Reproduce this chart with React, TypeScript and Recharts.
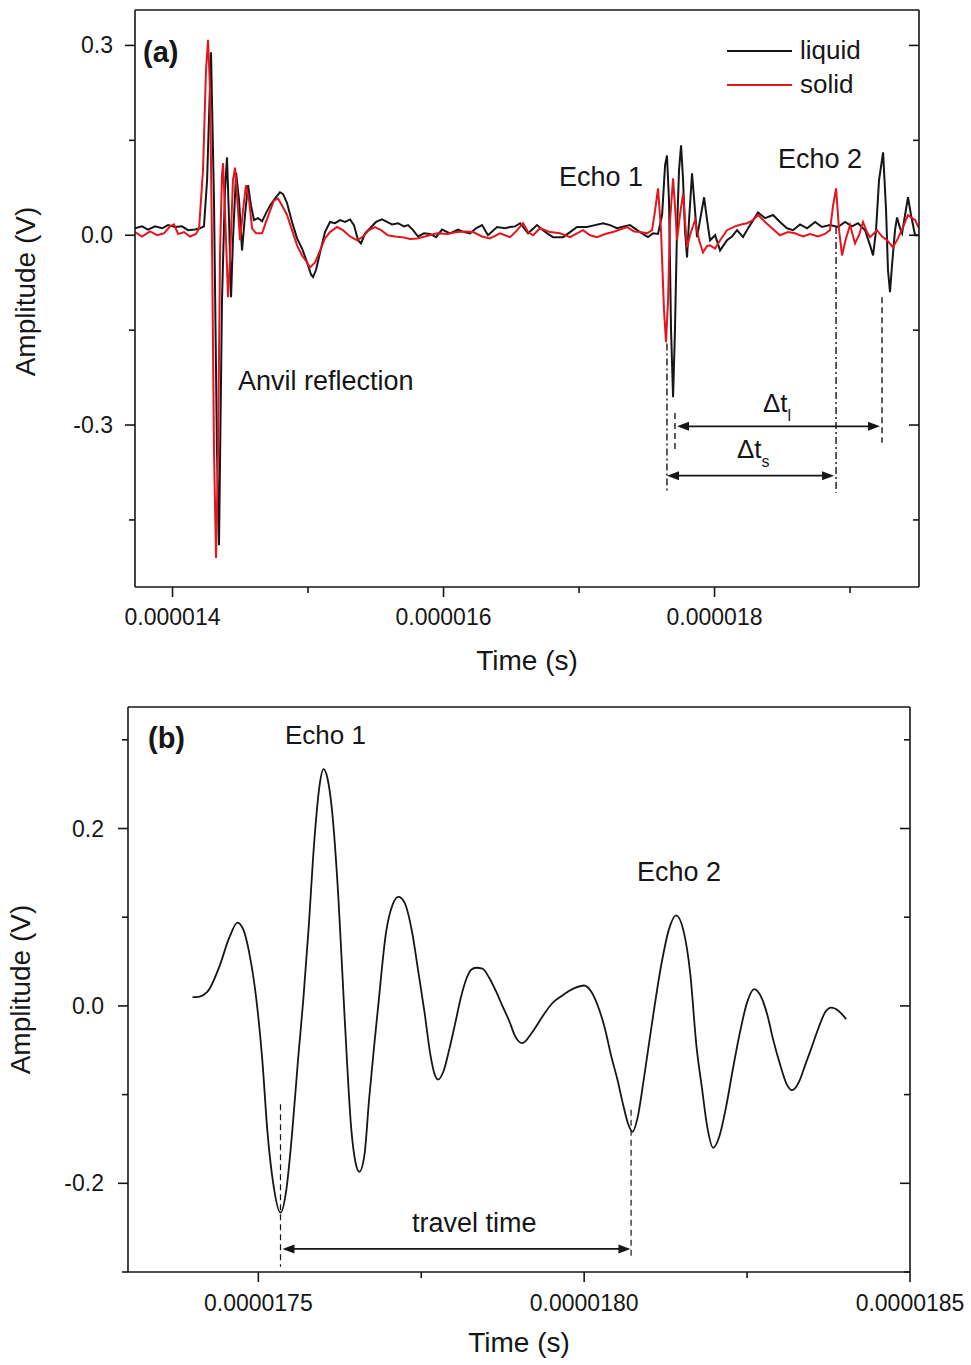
// App.tsx - ultrasonic echo traces, liquid vs solid (a) and a single echo pair (b)
import React from "react";
import { LineChart, Line, XAxis, YAxis, ReferenceLine, Legend } from "recharts";

const FONT = '"Liberation Sans", Arial, Helvetica, sans-serif';
const INK = "#161616";
const RED = "#e3161d";

// ---- panel (a): time in microseconds, amplitude in volts ----
const liquidTime = [
  13.723, 13.775, 13.819, 13.871, 13.923, 13.967, 14.018, 14.07, 14.114, 14.166, 14.203, 14.232,
  14.255, 14.284, 14.306, 14.328, 14.343, 14.365, 14.387, 14.402, 14.417, 14.432, 14.446, 14.469,
  14.491, 14.513, 14.535, 14.557, 14.579, 14.601, 14.631, 14.661, 14.69, 14.72, 14.756, 14.793,
  14.816, 14.845, 14.882, 14.919, 14.956, 14.993, 15.022, 15.037, 15.059, 15.089, 15.125, 15.162,
  15.199, 15.236, 15.273, 15.31, 15.339, 15.369, 15.391, 15.421, 15.458, 15.502, 15.546, 15.583,
  15.62, 15.664, 15.708, 15.738, 15.775, 15.812, 15.856, 15.9, 15.945, 15.989, 16.048, 16.107,
  16.151, 16.196, 16.24, 16.284, 16.328, 16.395, 16.454, 16.491, 16.528, 16.565, 16.624, 16.69,
  16.734, 16.771, 16.808, 16.882, 16.934, 16.985, 17.059, 17.118, 17.177, 17.229, 17.28, 17.332,
  17.376, 17.45, 17.509, 17.546, 17.583, 17.613, 17.635, 17.649, 17.664, 17.679, 17.694, 17.708,
  17.723, 17.738, 17.753, 17.768, 17.782, 17.797, 17.812, 17.834, 17.856, 17.871, 17.893, 17.923,
  17.945, 17.967, 18.004, 18.041, 18.092, 18.129, 18.166, 18.21, 18.262, 18.321, 18.373, 18.432,
  18.483, 18.535, 18.579, 18.631, 18.683, 18.742, 18.793, 18.852, 18.911, 18.963, 19.015, 19.059,
  19.111, 19.148, 19.17, 19.192, 19.214, 19.244, 19.266, 19.28, 19.295, 19.31, 19.332, 19.347,
  19.369, 19.384, 19.406, 19.428, 19.45, 19.48, 19.509,
];
const liquidAmp = [
  0.011, 0.014, 0.009, 0.014, 0.011, 0.016, 0.013, 0.014, 0.008, 0.009, 0.011, 0.014,
  0.087, 0.289, 0.055, -0.34, -0.49, -0.103, 0.071, 0.123, 0.024, -0.098, -0.008, 0.099,
  0.055, -0.024, 0.032, 0.079, 0.047, 0.024, 0.027, 0.022, 0.035, 0.047, 0.058, 0.068,
  0.065, 0.051, 0.021, -0.005, -0.021, -0.043, -0.062, -0.066, -0.055, -0.027, 0.005, 0.021,
  0.019, 0.024, 0.021, 0.025, 0.016, -0.008, -0.013, 0.003, 0.011, 0.021, 0.025, 0.021,
  0.017, 0.019, 0.014, 0.016, 0.008, -0.002, 0.003, 0.002, -0.003, 0.009, 0.003, 0.009,
  0.005, 0.003, 0.011, 0.016, 0.0, 0.013, 0.011, 0.013, 0.014, 0.019, 0.003, 0.016,
  0.008, 0.002, -0.003, -0.003, 0.005, 0.013, 0.013, 0.016, 0.019, 0.016, 0.011, 0.014,
  0.016, 0.005, -0.003, 0.003, 0.002, 0.032, 0.111, 0.126, 0.055, -0.15, -0.256, -0.15,
  0.008, 0.103, 0.142, 0.087, 0.008, -0.035, 0.024, 0.098, 0.039, -0.003, 0.024, 0.06,
  0.024, -0.008, 0.0, -0.024, -0.008, -0.002, 0.008, -0.003, 0.016, 0.036, 0.027, 0.032,
  0.021, 0.011, 0.008, 0.017, 0.011, 0.021, 0.013, 0.016, 0.013, 0.021, 0.014, 0.019,
  0.008, -0.016, -0.032, 0.008, 0.087, 0.131, 0.039, -0.055, -0.09, -0.047, 0.008, 0.028,
  0.011, 0.003, 0.032, 0.06, 0.032, 0.0, 0.0,
];

const solidTime = [
  13.723, 13.775, 13.834, 13.886, 13.937, 13.982, 14.011, 14.041, 14.085, 14.129, 14.173, 14.196,
  14.225, 14.247, 14.262, 14.277, 14.292, 14.306, 14.321, 14.336, 14.351, 14.365, 14.373, 14.387,
  14.41, 14.424, 14.446, 14.461, 14.476, 14.498, 14.52, 14.542, 14.565, 14.587, 14.616, 14.661,
  14.69, 14.72, 14.749, 14.779, 14.808, 14.845, 14.882, 14.919, 14.956, 14.993, 15.015, 15.052,
  15.089, 15.125, 15.162, 15.214, 15.258, 15.31, 15.362, 15.406, 15.45, 15.494, 15.539, 15.59,
  15.642, 15.694, 15.753, 15.804, 15.863, 15.952, 16.026, 16.1, 16.159, 16.218, 16.284, 16.343,
  16.417, 16.491, 16.535, 16.587, 16.624, 16.661, 16.712, 16.786, 16.86, 16.934, 16.985, 17.03,
  17.081, 17.133, 17.192, 17.251, 17.303, 17.354, 17.406, 17.45, 17.502, 17.539, 17.561, 17.583,
  17.605, 17.627, 17.642, 17.657, 17.672, 17.694, 17.708, 17.723, 17.745, 17.768, 17.782, 17.797,
  17.819, 17.856, 17.886, 17.915, 17.945, 17.967, 18.004, 18.041, 18.092, 18.151, 18.196, 18.24,
  18.284, 18.321, 18.373, 18.424, 18.483, 18.542, 18.594, 18.653, 18.705, 18.764, 18.815, 18.852,
  18.875, 18.897, 18.919, 18.941, 18.97, 19.0, 19.037, 19.066, 19.096, 19.125, 19.148, 19.199,
  19.236, 19.273, 19.317, 19.354, 19.391, 19.428, 19.458, 19.48, 19.509,
];
const solidAmp = [
  0.005, -0.002, 0.006, 0.0, 0.003, 0.014, 0.017, 0.002, 0.005, -0.002, 0.002, 0.011,
  0.103, 0.261, 0.309, 0.229, -0.024, -0.34, -0.51, -0.34, -0.024, 0.095, 0.114, 0.039,
  -0.098, -0.039, 0.087, 0.107, 0.063, -0.008, 0.039, 0.079, 0.055, 0.011, 0.003, 0.003,
  0.021, 0.039, 0.055, 0.058, 0.047, 0.032, 0.008, -0.016, -0.032, -0.043, -0.051, -0.043,
  -0.024, -0.005, 0.005, 0.013, 0.008, -0.002, -0.008, -0.002, 0.008, 0.013, 0.008, 0.0,
  -0.002, -0.003, -0.006, -0.005, -0.002, 0.003, 0.002, 0.005, 0.006, 0.005, -0.002, -0.005,
  0.003, -0.003, 0.006, 0.019, 0.005, 0.0, 0.011, 0.005, 0.003, -0.003, 0.003, 0.008,
  0.0, -0.003, 0.002, 0.005, 0.009, 0.013, 0.006, 0.005, 0.003, 0.008, 0.039, 0.074,
  0.008, -0.118, -0.169, -0.103, 0.024, 0.09, 0.047, -0.008, 0.032, 0.066, 0.024, -0.019,
  0.0, 0.024, -0.008, -0.027, -0.017, -0.016, -0.021, -0.008, 0.008, 0.014, 0.017, 0.019,
  0.024, 0.032, 0.021, 0.011, 0.0, 0.005, 0.003, -0.002, 0.002, -0.002, 0.002, 0.008,
  0.047, 0.074, 0.008, -0.032, -0.005, 0.016, -0.013, 0.0, 0.021, 0.005, -0.003, 0.008,
  -0.002, -0.008, -0.019, -0.005, 0.013, 0.032, 0.027, 0.024, 0.011,
];

// ---- panel (b): zoomed echo pair ----
const echoTime = [
  17.399, 17.406, 17.422, 17.44, 17.456, 17.468, 17.477, 17.486, 17.497, 17.506, 17.514, 17.523,
  17.534, 17.543, 17.552, 17.561, 17.569, 17.577, 17.586, 17.594, 17.6, 17.606, 17.613, 17.623,
  17.632, 17.643, 17.649, 17.655, 17.663, 17.67, 17.678, 17.683, 17.696, 17.706, 17.715, 17.724,
  17.736, 17.745, 17.755, 17.764, 17.77, 17.776, 17.784, 17.793, 17.802, 17.811, 17.819, 17.827,
  17.834, 17.844, 17.854, 17.865, 17.874, 17.885, 17.894, 17.905, 17.92, 17.936, 17.951, 17.965,
  17.985, 18.0, 18.011, 18.023, 18.032, 18.041, 18.051, 18.06, 18.067, 18.074, 18.082, 18.091,
  18.103, 18.118, 18.13, 18.141, 18.152, 18.163, 18.172, 18.181, 18.189, 18.198, 18.207, 18.218,
  18.228, 18.239, 18.25, 18.261, 18.271, 18.281, 18.29, 18.301, 18.31, 18.319, 18.33, 18.339,
  18.348, 18.359, 18.37, 18.379, 18.391, 18.402,
];
const echoAmp = [
  0.01, 0.01, 0.016, 0.044, 0.078, 0.094, 0.086, 0.06, 0.007, -0.06, -0.142, -0.201,
  -0.233, -0.207, -0.142, -0.06, 0.007, 0.086, 0.187, 0.249, 0.267, 0.257, 0.221, 0.12,
  -0.007, -0.142, -0.176, -0.187, -0.167, -0.105, -0.043, -0.007, 0.083, 0.114, 0.123, 0.117,
  0.083, 0.041, -0.007, -0.055, -0.076, -0.083, -0.074, -0.049, -0.02, 0.01, 0.03, 0.041,
  0.043, 0.042, 0.032, 0.016, 0.001, -0.017, -0.034, -0.042, -0.03, -0.012, 0.003, 0.011,
  0.02, 0.023, 0.016, -0.004, -0.026, -0.055, -0.083, -0.112, -0.132, -0.142, -0.126, -0.085,
  -0.025, 0.045, 0.086, 0.102, 0.086, 0.035, -0.043, -0.094, -0.137, -0.16, -0.148, -0.113,
  -0.072, -0.03, 0.004, 0.019, 0.011, -0.01, -0.038, -0.067, -0.087, -0.095, -0.085, -0.067,
  -0.049, -0.026, -0.007, -0.002, -0.006, -0.015,
];

// axis ticks (µs / V)
const aTimeTicks = [14, 15, 16, 17, 18, 19];
const aTimeMajor = [14, 16, 18];
const aAmpTicks = [-0.45, -0.3, -0.15, 0, 0.15, 0.3];
const aAmpMajor = [-0.3, 0, 0.3];
const bTimeTicks = [17.5, 17.75, 18, 18.25, 18.5];
const bTimeMajor = [17.5, 18, 18.5];
const bAmpTicks = [-0.3, -0.2, -0.1, 0, 0.1, 0.2, 0.3];
const bAmpMajor = [-0.2, 0, 0.2];

// time-of-flight markers: [time, from amp, to amp]
const aDashDot = [[17.649, -0.171, -0.407], [18.897, 0.013, -0.407]];
const aDashed = [[17.708, -0.281, -0.34], [19.236, -0.098, -0.328]];
const aArrows = [[17.723, 19.221, -0.302], [17.649, 18.882, -0.38]];
const bDashed = [[17.534, -0.111, -0.294], [18.072, -0.117, -0.283]];
const bArrows = [[17.537, 18.071, -0.274]];

const liquid = liquidTime.map((t, i) => ({ t, v: liquidAmp[i] }));
const solid = solidTime.map((t, i) => ({ t, v: solidAmp[i] }));
const echo = echoTime.map((t, i) => ({ t, v: echoAmp[i] }));

const near = (list: number[], v: number) => list.some((m) => Math.abs(m - v) < 1e-9);

type Side = "bottom" | "top" | "left" | "right";

// draws its own tick line (minor ticks shorter); bottom/left point out, top/right point in
function makeTick(side: Side, majors: number[], size: number, gap: number, fmt?: (v: number) => string) {
  return (props: any) => {
    const { x, y, payload } = props;
    const major = near(majors, payload.value);
    const len = major ? 10 : 6;
    if (side === "bottom" || side === "top") {
      const ay = side === "bottom" ? y - size - gap : y + size + gap;
      return (
        <g>
          <line x1={x} x2={x} y1={ay} y2={ay + len} stroke={INK} strokeWidth={1.6} />
          {fmt && major && (
            <text x={x} y={y} dy="0.71em" textAnchor="middle" fontSize={23} fill={INK} fontFamily={FONT}>
              {fmt(payload.value)}
            </text>
          )}
        </g>
      );
    }
    const ax = side === "left" ? x + size + gap : x - size - gap;
    return (
      <g>
        <line x1={ax - len} x2={ax} y1={y} y2={y} stroke={INK} strokeWidth={1.6} />
        {fmt && major && (
          <text x={x} y={y} dy="0.35em" textAnchor="end" fontSize={23} fill={INK} fontFamily={FONT}>
            {fmt(payload.value)}
          </text>
        )}
      </g>
    );
  };
}

const yTitle = (baselineX: number, shift: number) => (props: any) => {
  const vb = props.viewBox;
  const cy = vb.y + vb.height / 2 + shift;
  return (
    <text x={baselineX} y={cy} transform={`rotate(-90 ${baselineX} ${cy})`} textAnchor="middle"
      fontSize={28} fill={INK} fontFamily={FONT}>
      Amplitude (V)
    </text>
  );
};

const arrowShape = (p: any) => {
  const { x1, y1, x2, y2 } = p;
  const h = 12;
  const w = 4.5;
  return (
    <g>
      <line x1={x1 + 6} y1={y1} x2={x2 - 6} y2={y2} stroke={INK} strokeWidth={1.8} />
      <polygon points={`${x1},${y1} ${x1 + h},${y1 - w} ${x1 + h},${y1 + w}`} fill={INK} />
      <polygon points={`${x2},${y2} ${x2 - h},${y2 - w} ${x2 - h},${y2 + w}`} fill={INK} />
    </g>
  );
};

const legendContent = (props: any) => (
  <svg width={160} height={75} style={{ display: "block" }}>
    {(props.payload || []).map((p: any, i: number) => (
      <g key={p.value} transform={`translate(0, ${i * 34})`}>
        <line x1={7} x2={72} y1={21} y2={21} stroke={p.color} strokeWidth={2} />
        <text x={80} y={29} fontSize={26} fill={INK} fontFamily={FONT}>{p.value}</text>
      </g>
    ))}
  </svg>
);

const fmtA = (v: number) => (v * 1e-6).toFixed(6);
const fmtB = (v: number) => (v * 1e-6).toFixed(7);
const fmtAmp = (v: number) => v.toFixed(1);
const axisLine = { stroke: INK, strokeWidth: 1.6 };
const titleStyle = { fontSize: 28, fill: INK, fontFamily: FONT };

function PanelA() {
  const dom: [number, number] = [13.723, 19.509];
  const ydom: [number, number] = [-0.556, 0.356];
  return (
    <LineChart width={971} height={690} margin={{ top: 0, right: 0, bottom: 0, left: 0 }}>
      <XAxis xAxisId="b" dataKey="t" type="number" domain={dom} allowDataOverflow ticks={aTimeTicks} interval={0}
        height={103} tickSize={10} tickMargin={12} tickLine={false} axisLine={axisLine}
        tick={makeTick("bottom", aTimeMajor, 10, 12, fmtA)}
        label={{ value: "Time (s)", position: "insideBottom", offset: 20, ...titleStyle }} />
      <XAxis xAxisId="top" orientation="top" type="number" domain={dom} allowDataOverflow ticks={aTimeTicks} interval={0}
        height={10} tickSize={2} tickMargin={2} tickLine={false} axisLine={axisLine}
        tick={makeTick("top", aTimeMajor, 2, 2)} />
      <YAxis yAxisId="l" type="number" domain={ydom} allowDataOverflow ticks={aAmpTicks} interval={0}
        width={135} tickSize={10} tickMargin={12} tickLine={false} axisLine={axisLine}
        tick={makeTick("left", aAmpMajor, 10, 12, fmtAmp)} label={{ content: yTitle(35, -7) }} />
      <YAxis yAxisId="r" orientation="right" type="number" domain={ydom} allowDataOverflow ticks={aAmpTicks} interval={0}
        width={52} tickSize={2} tickMargin={2} tickLine={false} axisLine={axisLine}
        tick={makeTick("right", aAmpMajor, 2, 2)} />
      <Legend layout="vertical" align="center" verticalAlign="middle" wrapperStyle={{ left: 720, top: 30, width: 160 }}
        content={legendContent} />
      <Line xAxisId="b" yAxisId="l" data={liquid} dataKey="v" name="liquid" type="linear" stroke={INK}
        strokeWidth={2} dot={false} isAnimationActive={false} />
      <Line xAxisId="b" yAxisId="l" data={solid} dataKey="v" name="solid" type="linear" stroke={RED}
        strokeWidth={2} dot={false} isAnimationActive={false} />
      {aDashDot.map(([t, a, b], i) => (
        <ReferenceLine key={`dd${i}`} xAxisId="b" yAxisId="l" segment={[{ x: t, y: a }, { x: t, y: b }]}
          stroke={INK} strokeWidth={1.4} strokeDasharray="7 3 2 3" />
      ))}
      {aDashed.map(([t, a, b], i) => (
        <ReferenceLine key={`ds${i}`} xAxisId="b" yAxisId="l" segment={[{ x: t, y: a }, { x: t, y: b }]}
          stroke={INK} strokeWidth={1.4} strokeDasharray="6 4" />
      ))}
      {aArrows.map(([t1, t2, v], i) => (
        <ReferenceLine key={`ar${i}`} xAxisId="b" yAxisId="l" segment={[{ x: t1, y: v }, { x: t2, y: v }]}
          shape={arrowShape} />
      ))}
    </LineChart>
  );
}

function PanelB() {
  const dom: [number, number] = [17.3, 18.5];
  const ydom: [number, number] = [-0.3, 0.337];
  return (
    <LineChart width={971} height={675} margin={{ top: 0, right: 0, bottom: 0, left: 0 }}>
      <XAxis xAxisId="b" dataKey="t" type="number" domain={dom} allowDataOverflow ticks={bTimeTicks} interval={0}
        height={93} tickSize={10} tickMargin={13} tickLine={false} axisLine={axisLine}
        tick={makeTick("bottom", bTimeMajor, 10, 13, fmtB)}
        label={{ value: "Time (s)", position: "insideBottom", offset: 13, ...titleStyle }} />
      <XAxis xAxisId="top" orientation="top" type="number" domain={dom} allowDataOverflow ticks={bTimeTicks} interval={0}
        height={17} tickSize={2} tickMargin={2} tickLine={false} axisLine={axisLine}
        tick={makeTick("top", bTimeMajor, 2, 2)} />
      <YAxis yAxisId="l" type="number" domain={ydom} allowDataOverflow ticks={bAmpTicks} interval={0}
        width={128} tickSize={10} tickMargin={14} tickLine={false} axisLine={axisLine}
        tick={makeTick("left", bAmpMajor, 10, 14, fmtAmp)} label={{ content: yTitle(30, 0) }} />
      <YAxis yAxisId="r" orientation="right" type="number" domain={ydom} allowDataOverflow ticks={bAmpTicks} interval={0}
        width={61} tickSize={2} tickMargin={2} tickLine={false} axisLine={axisLine}
        tick={makeTick("right", bAmpMajor, 2, 2)} />
      <Line xAxisId="b" yAxisId="l" data={echo} dataKey="v" name="echo" type="monotone" stroke={INK}
        strokeWidth={1.8} dot={false} isAnimationActive={false} />
      {bDashed.map(([t, a, b], i) => (
        <ReferenceLine key={`ds${i}`} xAxisId="b" yAxisId="l" segment={[{ x: t, y: a }, { x: t, y: b }]}
          stroke={INK} strokeWidth={1.2} strokeDasharray="6 4" />
      ))}
      {bArrows.map(([t1, t2, v], i) => (
        <ReferenceLine key={`ar${i}`} xAxisId="b" yAxisId="l" segment={[{ x: t1, y: v }, { x: t2, y: v }]}
          shape={arrowShape} />
      ))}
    </LineChart>
  );
}

export default function App() {
  const t = { fontFamily: FONT, fill: INK };
  return (
    <div style={{ position: "absolute", left: 0, top: 0, width: 971, height: 1365, background: "#fff" }}>
      <div style={{ position: "absolute", left: 0, top: 0 }}>
        <PanelA />
      </div>
      <div style={{ position: "absolute", left: 0, top: 690 }}>
        <PanelB />
      </div>
      <svg width={971} height={1365} style={{ position: "absolute", left: 0, top: 0, pointerEvents: "none" }}>
        <text x={143} y={62} fontSize={29} fontWeight="bold" {...t}>(a)</text>
        <text x={238} y={390} fontSize={27} {...t}>Anvil reflection</text>
        <text x={559} y={186} fontSize={27} {...t}>Echo 1</text>
        <text x={778} y={168} fontSize={27} {...t}>Echo 2</text>
        <text x={763} y={412} fontSize={26} {...t}>Δt<tspan fontSize={16} dy={9}>l</tspan></text>
        <text x={737} y={458} fontSize={26} {...t}>Δt<tspan fontSize={16} dy={9}>s</tspan></text>
        <text x={148} y={748} fontSize={29} fontWeight="bold" {...t}>(b)</text>
        <text x={285} y={744} fontSize={26} {...t}>Echo 1</text>
        <text x={637} y={881} fontSize={27} {...t}>Echo 2</text>
        <text x={412} y={1232} fontSize={27} {...t}>travel time</text>
      </svg>
    </div>
  );
}
